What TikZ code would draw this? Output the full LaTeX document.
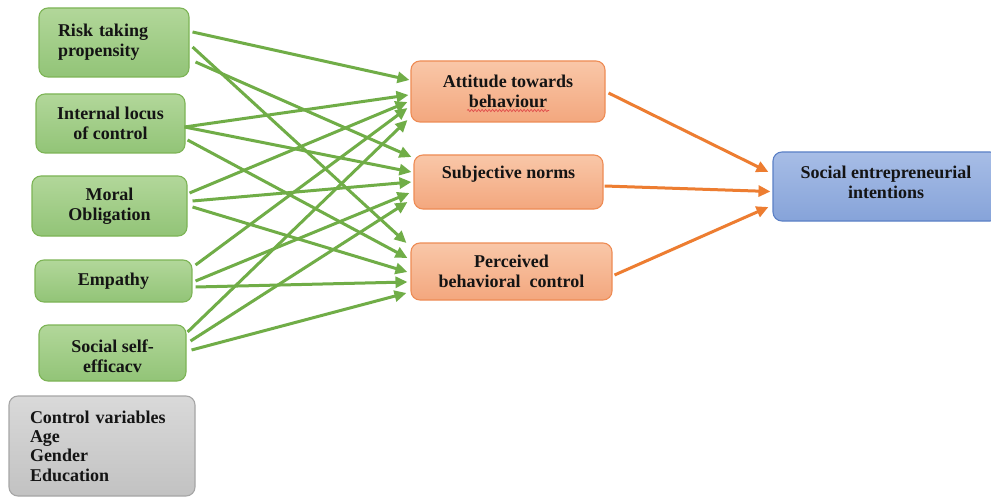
\documentclass[tikz,border=0pt]{standalone}
\usepackage{fontspec}
\setmainfont{Liberation Serif}
\usetikzlibrary{arrows.meta,calc,decorations.pathmorphing}
\definecolor{grnT}{HTML}{B2D79A}
\definecolor{grnD}{HTML}{92C477}
\definecolor{grnB}{HTML}{7DB456}
\definecolor{grnA}{HTML}{70AD47}
\definecolor{orgT}{HTML}{F9C7A8}
\definecolor{orgD}{HTML}{F3A77E}
\definecolor{orgB}{HTML}{EE8C55}
\definecolor{orgA}{HTML}{ED7D31}
\definecolor{bluT}{HTML}{A7BDE6}
\definecolor{bluD}{HTML}{86A3D9}
\definecolor{bluB}{HTML}{5B80C6}
\definecolor{gryT}{HTML}{D9D9D9}
\definecolor{gryD}{HTML}{C2C2C2}
\definecolor{gryB}{HTML}{A6A6A6}
\definecolor{txt}{HTML}{141414}
\definecolor{spell}{HTML}{E04848}
\begin{document}
\begin{tikzpicture}[x=1pt,y=-1pt,
  box/.style={rounded corners=9pt, line width=1.1pt, inner sep=0pt, align=center,
    font=\fontsize{18}{20}\selectfont\bfseries, text=txt},
  gbox/.style={box, draw=grnB, top color=grnT, bottom color=grnD},
  obox/.style={box, draw=orgB, top color=orgT, bottom color=orgD},
  bbox/.style={box, draw=bluB, top color=bluT, bottom color=bluD},
  cbox/.style={box, draw=gryB, top color=gryT, bottom color=gryD},
  garrow/.style={draw=grnA, line width=3pt, -{Triangle[length=12pt,width=11pt]}},
  oarrow/.style={draw=orgA, line width=3pt, -{Triangle[length=12pt,width=11pt]}},
  squiggle/.style={draw=spell, line width=0.7pt, decorate,
    decoration={snake, amplitude=1.1pt, segment length=3.5pt}}]
\useasboundingbox (0,0) rectangle (991,500);
\clip (0,0) rectangle (991,500);
\fill[white] (0,0) rectangle (991,500);

% left column
\node[gbox, minimum width=150pt, minimum height=69pt, text width=112pt, align=left] (risk) at (114,42.5) {Risk taking\\propensity};
\node[gbox, minimum width=149pt, minimum height=59pt] (internal) at (110.5,123.5) {Internal locus\\of control};
\node[gbox, minimum width=155pt, minimum height=60pt] (moral) at (109.5,206) {Moral\\Obligation};
\node[gbox, minimum width=157pt, minimum height=42pt] (empathy) at (113.5,281) {Empathy};
\node[gbox, minimum width=147pt, minimum height=56pt] (social) at (112.5,353)
  {\raisebox{-3pt}[\height][\depth]{Social self-}\\\raisebox{-3pt}[\height][\depth]{efficacv}};
\node[cbox, minimum width=186pt, minimum height=100pt, text width=144pt, align=left,
  font=\fontsize{18}{19.3}\selectfont\bfseries] (ctrl) at (102,446)
  {Control variables\\Age\\Gender\\Education};

% middle column
\node[obox, minimum width=194pt, minimum height=61pt] (att) at (508,91.5) {Attitude towards\\behaviour};
\node[obox, minimum width=189pt, minimum height=54pt] (subj) at (508.5,182)
  {\raisebox{8pt}[\height][\depth]{Subjective norms}};
\node[obox, minimum width=201pt, minimum height=57pt] (perc) at (511.5,271.5) {Perceived\\behavioral\ \ control};

% right
\node[bbox, minimum width=226pt, minimum height=69pt] (sei) at (886,186.5)
  {\raisebox{4.5pt}[\height][\depth]{Social entrepreneurial}\\\raisebox{4.5pt}[\height][\depth]{intentions}};

% spell-check underline
\draw[squiggle] ($(att.center)+(-41,19)$) -- ($(att.center)+(41,19)$);

% green arrows: to attitude
\draw[garrow] ($(risk.east)+(3,-10.5)$) -- ($(att.west)+(-1,-11.5)$);
\draw[garrow] ($(internal.east)+(-1,3.5)$) -- ($(att.west)+(-2,3.5)$);
\draw[garrow] ($(moral.east)+(2,-13)$) -- ($(att.west)+(-3,10.5)$);
\draw[garrow] ($(empathy.east)+(3,-16)$) -- ($(att.west)+(-3,16.5)$);
\draw[garrow] ($(social.east)+(1,-21)$) -- ($(att.west)+(-3,28.5)$);
% to subjective norms
\draw[garrow] ($(risk.east)+(6,19.5)$) -- ($(subj.west)+(-2,-25)$);
\draw[garrow] ($(internal.east)+(-1,3.5)$) -- ($(subj.west)+(-2,-10)$);
\draw[garrow] ($(moral.east)+(5,-5)$) -- ($(subj.west)+(-2,0)$);
\draw[garrow] ($(empathy.east)+(3,0)$) -- ($(subj.west)+(-4,11)$);
\draw[garrow] ($(social.east)+(4,-12)$) -- ($(subj.west)+(-6,20)$);
% to perceived behavioural control
\draw[garrow] ($(risk.east)+(3,4.5)$) -- ($(perc.west)+(-4,-28.5)$);
\draw[garrow] ($(internal.east)+(2,16.5)$) -- ($(perc.west)+(-3,-13.5)$);
\draw[garrow] ($(moral.east)+(5,1)$) -- ($(perc.west)+(-3,0.5)$);
\draw[garrow] ($(empathy.east)+(3,6)$) -- ($(perc.west)+(-3,10.5)$);
\draw[garrow] ($(social.east)+(5,-3)$) -- ($(perc.west)+(-4,21.5)$);

% orange arrows
\draw[oarrow] ($(att.east)+(3,1.5)$) -- ($(sei.west)+(-4,-14.5)$);
\draw[oarrow] ($(subj.east)+(1,4)$) -- ($(sei.west)+(-2,5)$);
\draw[oarrow] ($(perc.east)+(2,3.5)$) -- ($(sei.west)+(-4,20.5)$);
\end{tikzpicture}
\end{document}
